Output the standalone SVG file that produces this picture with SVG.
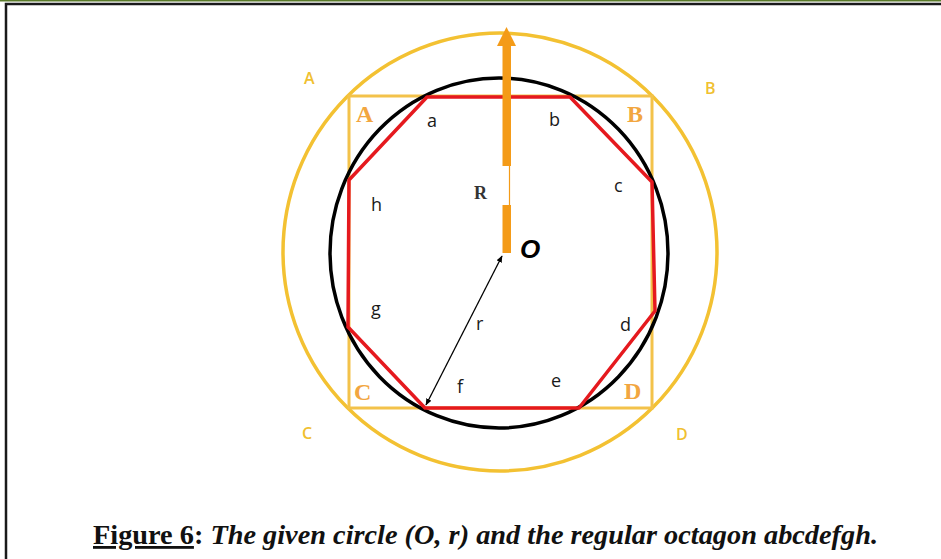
<svg xmlns="http://www.w3.org/2000/svg" width="941" height="559" viewBox="0 0 941 559">
<style>
.frame{stroke:#1a1a1a;stroke-width:2.5;fill:none}
.yel{stroke:#f3c132;stroke-width:3.5;fill:none}
.sq{stroke:#f3c24a;stroke-width:3;fill:none}
.blk{stroke:#000;stroke-width:3.5;fill:none}
.red{stroke:#e5191e;stroke-width:3.5;fill:none;stroke-linejoin:round}
.lc{font-family:"Open Sans","Liberation Sans",sans-serif;font-size:18px;font-weight:500;fill:#1a1a1a}
.outer{font-family:"Open Sans","Liberation Sans",sans-serif;font-size:16px;font-weight:600;fill:#f0c030}
.inner{font-family:"Liberation Serif",serif;font-size:24px;font-weight:bold;fill:#f2a640}
.cap{font-family:"Liberation Serif",serif;font-size:28px;font-weight:bold;fill:#111}
</style>
<defs>
<marker id="ah" viewBox="0 0 10 10" refX="9" refY="5" markerWidth="7" markerHeight="7" orient="auto-start-reverse" markerUnits="userSpaceOnUse">
<path d="M0,1 L10,5 L0,9 z" fill="#000"/>
</marker>
</defs>
<rect width="941" height="559" fill="#fff"/>
<line x1="0" y1="0.8" x2="941" y2="0.8" stroke="#5a7a2a" stroke-width="1.6"/>
<path class="frame" d="M941,4 H6 V559"/>

<g id="outer-circle"><ellipse class="yel" cx="500" cy="252" rx="217" ry="219"/></g>
<g id="square"><rect class="sq" x="349" y="96" width="303" height="312"/></g>
<g id="inner-circle"><ellipse class="blk" cx="499" cy="253" rx="169" ry="175"/></g>
<g id="octagon"><polygon class="red" points="427,97 570,97 652,182 655,311 579,408 425,408 348,327 349,180"/></g>

<g id="connectors">
<line x1="502" y1="256" x2="426" y2="405" stroke="#000" stroke-width="1.3" marker-start="url(#ah)" marker-end="url(#ah)"/>
<g id="arrow-R">
<rect x="502.5" y="44" width="8.5" height="122" fill="#f49b18"/>
<rect x="502.5" y="205" width="8.5" height="48" fill="#f49b18"/>
<line x1="509.5" y1="165" x2="509.5" y2="206" stroke="#f49b18" stroke-width="1.2"/>
<polygon points="506.5,27 516,46 497,46" fill="#f49b18"/>
</g>
</g>

<g id="labels-outer">
<text class="outer" x="304" y="84">A</text>
<text class="outer" x="705" y="94">B</text>
<text class="outer" x="302" y="439">C</text>
<text class="outer" x="676" y="440">D</text>
</g>
<g id="labels-inner">
<text class="inner" x="356" y="122">A</text>
<text class="inner" x="627" y="122">B</text>
<text class="inner" x="354" y="400">C</text>
<text class="inner" x="624" y="399">D</text>
</g>
<g id="labels-sides">
<text class="lc" x="427" y="127">a</text>
<text class="lc" x="549" y="126">b</text>
<text class="lc" x="614" y="192">c</text>
<text class="lc" x="620" y="331">d</text>
<text class="lc" x="551" y="387">e</text>
<text class="lc" x="457" y="393">f</text>
<text class="lc" x="371" y="315">g</text>
<text class="lc" x="371" y="211">h</text>
<text class="lc" x="476" y="330">r</text>
</g>
<g id="label-R"><text x="474" y="199" font-family="Liberation Serif,serif" font-weight="bold" font-size="18" fill="#333">R</text></g>
<g id="label-O"><text x="520" y="258" font-family="Liberation Sans,sans-serif" font-weight="bold" font-style="italic" font-size="26" fill="#000">O</text></g>

<g id="caption">
<text class="cap" x="93" y="544" textLength="785" lengthAdjust="spacingAndGlyphs"><tspan text-decoration="underline">Figure 6</tspan>: <tspan font-style="italic">The given circle (O, r) and the regular octagon abcdefgh.</tspan></text>
</g>
</svg>
